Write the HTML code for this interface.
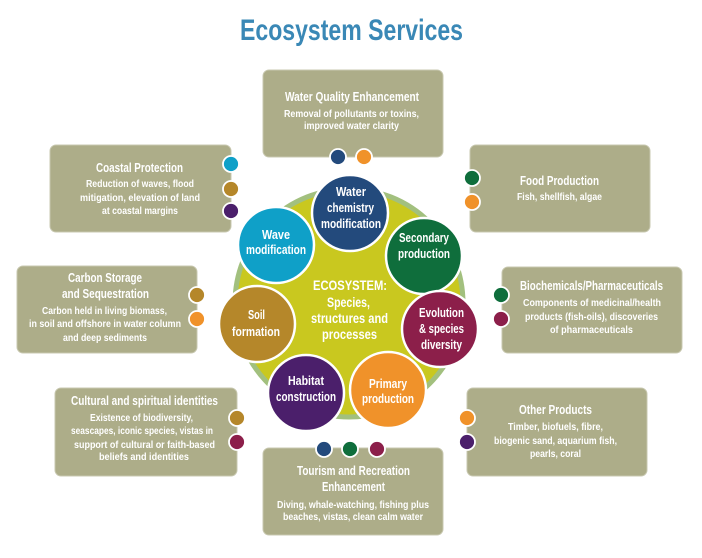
<!DOCTYPE html>
<html><head><meta charset="utf-8"><style>
html,body{margin:0;padding:0;background:#fff;}
svg{display:block;}
text{font-family:"Liberation Sans Narrow","Liberation Sans",sans-serif;font-weight:bold;fill:#fff;}
.t{font-size:12.5px;}
.d{font-size:10.2px;font-weight:bold;}
.c{font-size:12.5px;}
.box{fill:#adad89;stroke:#c8c8b0;stroke-width:1;}
.dot{stroke:#fff;stroke-width:1.8;}
.sc{stroke:#fff;stroke-width:2.5;}
</style></head><body>
<svg width="702" height="558" viewBox="0 0 702 558" xmlns="http://www.w3.org/2000/svg">
<rect width="702" height="558" fill="#fff"/>
<text x="240" y="40" font-size="30" textLength="223" lengthAdjust="spacingAndGlyphs" style="fill:#3a88b6">Ecosystem Services</text>

<!-- boxes -->
<rect class="box" x="263" y="70" width="180" height="87" rx="6"/>
<rect class="box" x="50" y="145" width="181" height="87" rx="6"/>
<rect class="box" x="17" y="266" width="180" height="87" rx="6"/>
<rect class="box" x="55" y="388" width="182" height="88" rx="6"/>
<rect class="box" x="263" y="448" width="180" height="87" rx="6"/>
<rect class="box" x="470" y="145" width="180" height="87" rx="6"/>
<rect class="box" x="502" y="267" width="180" height="86" rx="6"/>
<rect class="box" x="467" y="388" width="180" height="88" rx="6"/>

<!-- box text -->
<text class="t" x="285" y="101" textLength="134" lengthAdjust="spacingAndGlyphs">Water Quality Enhancement</text>
<text class="d" x="284" y="117" textLength="135" lengthAdjust="spacingAndGlyphs">Removal of pollutants or toxins,</text>
<text class="d" x="304" y="129" textLength="95" lengthAdjust="spacingAndGlyphs">improved water clarity</text>

<text class="t" x="96" y="172" textLength="87" lengthAdjust="spacingAndGlyphs">Coastal Protection</text>
<text class="d" x="86" y="187" textLength="108" lengthAdjust="spacingAndGlyphs">Reduction of waves, flood</text>
<text class="d" x="80" y="201" textLength="120" lengthAdjust="spacingAndGlyphs">mitigation, elevation of land</text>
<text class="d" x="102" y="214" textLength="76" lengthAdjust="spacingAndGlyphs">at coastal margins</text>

<text class="t" x="68" y="282" textLength="74" lengthAdjust="spacingAndGlyphs">Carbon Storage</text>
<text class="t" x="62" y="298" textLength="87" lengthAdjust="spacingAndGlyphs">and Sequestration</text>
<text class="d" x="42" y="314" textLength="125" lengthAdjust="spacingAndGlyphs">Carbon held in living biomass,</text>
<text class="d" x="29" y="327" textLength="152" lengthAdjust="spacingAndGlyphs">in soil and offshore in water column</text>
<text class="d" x="63" y="341" textLength="84" lengthAdjust="spacingAndGlyphs">and deep sediments</text>

<text class="t" x="71" y="405" textLength="147" lengthAdjust="spacingAndGlyphs">Cultural and spiritual identities</text>
<text class="d" x="90" y="421" textLength="103" lengthAdjust="spacingAndGlyphs">Existence of biodiversity,</text>
<text class="d" x="71" y="434" textLength="142" lengthAdjust="spacingAndGlyphs">seascapes, iconic species, vistas in</text>
<text class="d" x="74" y="448" textLength="141" lengthAdjust="spacingAndGlyphs">support of cultural or faith-based</text>
<text class="d" x="99" y="460" textLength="90" lengthAdjust="spacingAndGlyphs">beliefs and identities</text>

<text class="t" x="297" y="475" textLength="113" lengthAdjust="spacingAndGlyphs">Tourism and Recreation</text>
<text class="t" x="322" y="491" textLength="63" lengthAdjust="spacingAndGlyphs">Enhancement</text>
<text class="d" x="277" y="508" textLength="152" lengthAdjust="spacingAndGlyphs">Diving, whale-watching, fishing plus</text>
<text class="d" x="283" y="520" textLength="140" lengthAdjust="spacingAndGlyphs">beaches, vistas, clean calm water</text>

<text class="t" x="520" y="185" textLength="79" lengthAdjust="spacingAndGlyphs">Food Production</text>
<text class="d" x="517" y="200" textLength="85" lengthAdjust="spacingAndGlyphs">Fish, shellfish, algae</text>

<text class="t" x="520" y="290" textLength="143" lengthAdjust="spacingAndGlyphs">Biochemicals/Pharmaceuticals</text>
<text class="d" x="523" y="306" textLength="138" lengthAdjust="spacingAndGlyphs">Components of medicinal/health</text>
<text class="d" x="525" y="320" textLength="133" lengthAdjust="spacingAndGlyphs">products (fish-oils), discoveries</text>
<text class="d" x="550" y="333" textLength="83" lengthAdjust="spacingAndGlyphs">of pharmaceuticals</text>

<text class="t" x="519" y="414" textLength="73" lengthAdjust="spacingAndGlyphs">Other Products</text>
<text class="d" x="508" y="430" textLength="95" lengthAdjust="spacingAndGlyphs">Timber, biofuels, fibre,</text>
<text class="d" x="494" y="444" textLength="123" lengthAdjust="spacingAndGlyphs">biogenic sand, aquarium fish,</text>
<text class="d" x="530" y="457" textLength="51" lengthAdjust="spacingAndGlyphs">pearls, coral</text>

<!-- dots -->
<circle class="dot" cx="338" cy="157" r="8" fill="#234a7c"/>
<circle class="dot" cx="364" cy="157" r="8" fill="#f0922a"/>
<circle class="dot" cx="231" cy="164" r="8" fill="#0fa0c8"/>
<circle class="dot" cx="231" cy="189" r="8" fill="#b5872a"/>
<circle class="dot" cx="231" cy="211" r="8" fill="#4b1f6b"/>
<circle class="dot" cx="197" cy="295" r="8" fill="#b5872a"/>
<circle class="dot" cx="197" cy="319" r="8" fill="#f0922a"/>
<circle class="dot" cx="237" cy="418" r="8" fill="#b5872a"/>
<circle class="dot" cx="237" cy="442" r="8" fill="#8c1f4a"/>
<circle class="dot" cx="324" cy="449" r="8" fill="#234a7c"/>
<circle class="dot" cx="350" cy="449" r="8" fill="#0f6e3c"/>
<circle class="dot" cx="377" cy="449" r="8" fill="#8c1f4a"/>
<circle class="dot" cx="472" cy="178" r="8" fill="#0f6e3c"/>
<circle class="dot" cx="472" cy="202" r="8" fill="#f0922a"/>
<circle class="dot" cx="501" cy="295" r="8" fill="#0f6e3c"/>
<circle class="dot" cx="501" cy="319" r="8" fill="#8c1f4a"/>
<circle class="dot" cx="467" cy="418" r="8" fill="#f0922a"/>
<circle class="dot" cx="467" cy="442" r="8" fill="#4b1f6b"/>

<!-- big circle -->
<circle cx="349" cy="303" r="114" fill="#c9c81f" stroke="#a2c07e" stroke-width="5"/>
<text x="313" y="290" font-size="13.5" textLength="74" lengthAdjust="spacingAndGlyphs">ECOSYSTEM:</text>
<text x="327" y="307" font-size="13.5" textLength="43" lengthAdjust="spacingAndGlyphs">Species,</text>
<text x="311" y="323" font-size="13.5" textLength="77" lengthAdjust="spacingAndGlyphs">structures and</text>
<text x="322" y="339" font-size="13.5" textLength="55" lengthAdjust="spacingAndGlyphs">processes</text>

<!-- small circles -->
<circle class="sc" cx="350" cy="213" r="38" fill="#234a7c"/>
<circle class="sc" cx="424" cy="256" r="38" fill="#0f6e3c"/>
<circle class="sc" cx="440" cy="329" r="38" fill="#8c1f4a"/>
<circle class="sc" cx="388" cy="390" r="38" fill="#f0922a"/>
<circle class="sc" cx="306" cy="393" r="38" fill="#4b1f6b"/>
<circle class="sc" cx="257" cy="324" r="38" fill="#b5872a"/>
<circle class="sc" cx="276" cy="245" r="38" fill="#0fa0c8"/>

<text class="c" x="336" y="196" textLength="30" lengthAdjust="spacingAndGlyphs">Water</text>
<text class="c" x="327" y="212" textLength="47" lengthAdjust="spacingAndGlyphs">chemistry</text>
<text class="c" x="321" y="228" textLength="60" lengthAdjust="spacingAndGlyphs">modification</text>

<text class="c" x="262" y="239" textLength="28" lengthAdjust="spacingAndGlyphs">Wave</text>
<text class="c" x="246" y="254" textLength="60" lengthAdjust="spacingAndGlyphs">modification</text>

<text class="c" x="399" y="242" textLength="50" lengthAdjust="spacingAndGlyphs">Secondary</text>
<text class="c" x="398" y="258" textLength="52" lengthAdjust="spacingAndGlyphs">production</text>

<text class="c" x="419" y="317" textLength="45" lengthAdjust="spacingAndGlyphs">Evolution</text>
<text class="c" x="419" y="333" textLength="45" lengthAdjust="spacingAndGlyphs">&amp; species</text>
<text class="c" x="421" y="349" textLength="41" lengthAdjust="spacingAndGlyphs">diversity</text>

<text class="c" x="369" y="388" textLength="38" lengthAdjust="spacingAndGlyphs">Primary</text>
<text class="c" x="362" y="403" textLength="52" lengthAdjust="spacingAndGlyphs">production</text>

<text class="c" x="288" y="385" textLength="36" lengthAdjust="spacingAndGlyphs">Habitat</text>
<text class="c" x="276" y="401" textLength="60" lengthAdjust="spacingAndGlyphs">construction</text>

<text class="c" x="248" y="319" textLength="17" lengthAdjust="spacingAndGlyphs">Soil</text>
<text class="c" x="232" y="336" textLength="48" lengthAdjust="spacingAndGlyphs">formation</text>
</svg>
</body></html>
